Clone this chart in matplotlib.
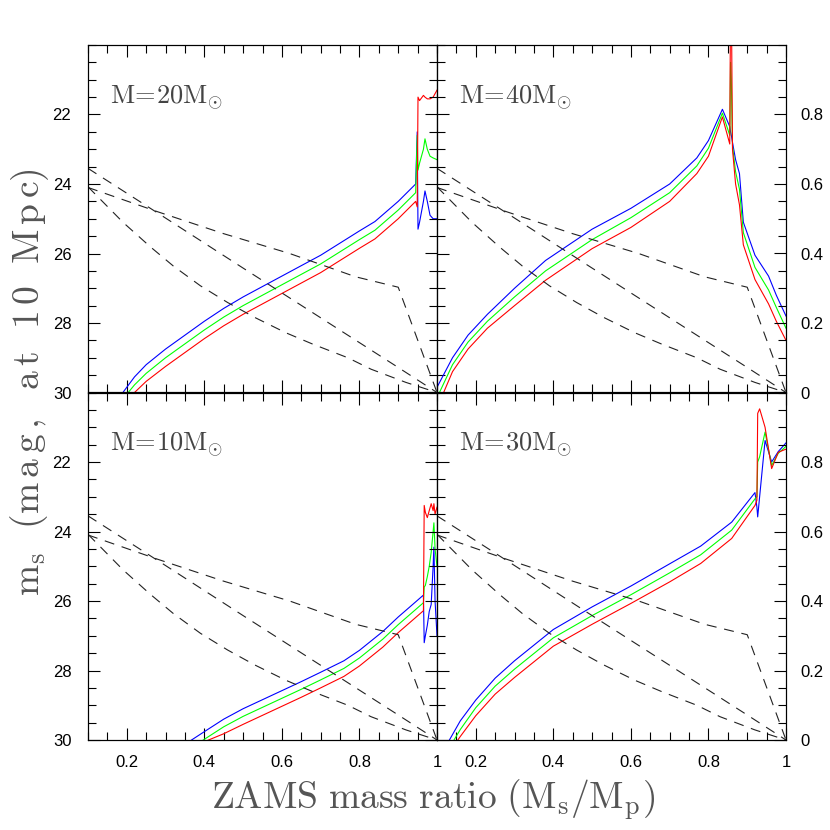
import matplotlib
matplotlib.use('Agg')
import matplotlib.pyplot as plt
from matplotlib.ticker import MultipleLocator, FixedLocator, FuncFormatter

plt.rcParams['mathtext.fontset'] = 'cm'
plt.rcParams['font.family'] = ['Liberation Sans', 'DejaVu Sans']

# dashed curves, right-hand scale (0-1), same in every panel
q_d1 = [0.1, 0.3, 0.5, 0.7, 0.9, 1.0]
f_d1 = [0.645, 0.502, 0.358, 0.215, 0.072, 0.0]
q_d2 = [0.1, 0.28, 0.45, 0.62, 0.79, 0.9, 1.0]
f_d2 = [0.59, 0.52, 0.457, 0.40, 0.333, 0.303, 0.0]
q_d3 = [0.1, 0.19, 0.26, 0.32, 0.39, 0.46, 0.53, 0.61, 0.68, 0.77, 0.83, 0.92, 1.0]
f_d3 = [0.592, 0.49, 0.42, 0.364, 0.307, 0.259, 0.216, 0.172, 0.139, 0.10, 0.067, 0.029, 0.0]

# M = 20 Msun
q20 = [0.15, 0.2, 0.22, 0.25, 0.3, 0.35, 0.4, 0.45, 0.5, 0.6, 0.7, 0.8, 0.84, 0.9, 0.945,
       0.949, 0.951, 0.955, 0.965, 0.969, 0.975, 0.982, 0.99, 1.0]
b20 = [30.6, 29.85, 29.55, 29.2, 28.75, 28.35, 27.95, 27.58, 27.25, 26.65, 26.05, 25.35, 25.08, 24.5, 24.0,
       22.5, 25.3, 25.1, 24.5, 24.2, 24.5, 24.9, 25.0, 25.0]
g20 = [30.85, 30.05, 29.78, 29.45, 29.0, 28.6, 28.2, 27.83, 27.5, 26.9, 26.3, 25.6, 25.33, 24.75, 24.25,
       22.6, 23.6, 23.4, 23.0, 22.7, 23.0, 23.2, 23.25, 23.3]
r20 = [31.1, 30.25, 30.0, 29.68, 29.25, 28.85, 28.45, 28.08, 27.75, 27.15, 26.55, 25.85, 25.58, 25.0, 24.5,
       24.66, 21.5, 21.6, 21.45, 21.5, 21.55, 21.55, 21.5, 21.3]

# M = 40 Msun
q40 = [0.1, 0.14, 0.18, 0.23, 0.3, 0.38, 0.5, 0.6, 0.7, 0.77, 0.80, 0.836, 0.855, 0.857,
       0.859, 0.862, 0.87, 0.88, 0.89, 0.92, 0.955, 0.975, 1.0]
b40 = [29.85, 29.0, 28.35, 27.75, 27.0, 26.2, 25.3, 24.7, 24.0, 23.25, 22.75, 21.85, 22.35, 22.5,
       22.6, 22.8, 23.3, 23.7, 25.1, 26.05, 26.65, 27.2, 27.8]
g40 = [30.15, 29.2, 28.55, 27.95, 27.25, 26.5, 25.6, 24.97, 24.25, 23.48, 22.97, 21.96, 22.6, 20.5,
       21.0, 22.9, 23.65, 24.15, 25.4, 26.4, 27.05, 27.55, 28.15]
r40 = [30.45, 29.4, 28.75, 28.15, 27.5, 26.77, 25.86, 25.25, 24.5, 23.7, 23.2, 22.07, 22.85, 18.5,
       18.5, 23.0, 24.0, 24.6, 25.75, 26.75, 27.45, 27.95, 28.5]

# M = 10 Msun
q10 = [0.33, 0.367, 0.4, 0.45, 0.5, 0.55, 0.6, 0.65, 0.7, 0.76, 0.8, 0.86, 0.9, 0.93, 0.965,
       0.967, 0.97, 0.975, 0.98, 0.985, 0.99, 0.992, 0.995, 1.0]
b10 = [30.3, 30.0, 29.76, 29.4, 29.1, 28.84, 28.58, 28.32, 28.05, 27.72, 27.42, 26.88, 26.46, 26.17, 25.83,
       27.2, 27.0, 26.7, 26.3, 26.1, 25.0, 24.45, 26.0, 27.0]
g10 = [30.55, 30.22, 29.98, 29.62, 29.32, 29.06, 28.8, 28.54, 28.27, 27.94, 27.64, 27.1, 26.68, 26.39, 26.05,
       25.6, 25.55, 25.3, 25.0, 24.6, 24.0, 23.75, 24.5, 25.0]
r10 = [30.8, 30.45, 30.05, 29.82, 29.55, 29.29, 29.03, 28.77, 28.5, 28.17, 27.87, 27.33, 26.91, 26.62, 26.28,
       23.25, 23.45, 23.6, 23.4, 23.2, 23.4, 23.2, 23.5, 23.3]

# M = 30 Msun
q30 = [0.1, 0.132, 0.16, 0.2, 0.25, 0.3, 0.4, 0.5, 0.6, 0.7, 0.78, 0.86, 0.92, 0.925,
       0.927, 0.932, 0.946, 0.963, 0.98, 1.0]
b30 = [31.0, 30.0, 29.45, 28.85, 28.22, 27.72, 26.82, 26.17, 25.57, 24.93, 24.42, 23.73, 22.88, 23.3,
       23.58, 23.0, 21.38, 22.0, 21.7, 21.45]
g30 = [31.25, 30.22, 29.7, 29.07, 28.45, 27.96, 27.06, 26.42, 25.82, 25.19, 24.67, 23.96, 23.06, 23.0,
       22.0, 21.85, 21.14, 22.1, 21.75, 21.55]
r30 = [31.5, 30.35, 29.9, 29.3, 28.68, 28.2, 27.3, 26.67, 26.07, 25.45, 24.92, 24.2, 23.25, 23.1,
       20.6, 20.47, 21.0, 22.19, 21.72, 21.63]

labels = [['20', '40'], ['10', '30']]
curves = [[(q20, b20, g20, r20), (q40, b40, g40, r40)],
          [(q10, b10, g10, r10), (q30, b30, g30, r30)]]

fig = plt.figure(figsize=(8.3, 8.3), dpi=100)
axs = fig.subplots(2, 2)
fig.subplots_adjust(left=88/830, right=786/830, bottom=1-740/830, top=1-45/830,
                    wspace=0, hspace=0)

fmt = FuncFormatter(lambda v, p: '%g' % round(v, 2))

for i in range(2):
    for j in range(2):
        ax = axs[i, j]
        q, b, g, r = curves[i][j]
        ax.plot(q, b, color='#0000ff', lw=0.8)
        ax.plot(q, g, color='#00ff00', lw=0.8)
        ax.plot(q, r, color='#ff0000', lw=0.8)
        ax.set_xlim(0.1, 1)
        ax.set_ylim(30, 20)
        ax.xaxis.set_major_locator(MultipleLocator(0.2))
        ax.xaxis.set_minor_locator(MultipleLocator(0.05))
        ax.xaxis.set_major_formatter(fmt)
        ax.yaxis.set_major_locator(FixedLocator([22, 24, 26, 28, 30]))
        ax.yaxis.set_minor_locator(MultipleLocator(0.5))
        ax.tick_params(which='both', direction='in', top=True, right=False,
                       labelsize=12, width=0.8)
        ax.tick_params(which='major', length=8.5)
        ax.tick_params(which='minor', length=5.5)
        ax.tick_params(axis='y', pad=12)
        ax.tick_params(axis='x', pad=11)
        if i == 0:
            ax.tick_params(labelbottom=False)
        if j == 1:
            ax.tick_params(labelleft=False)

        ax2 = ax.twinx()
        ax2.plot(q_d1, f_d1, color='#222222', lw=0.8, ls=(0, (9, 7)))
        ax2.plot(q_d2, f_d2, color='#222222', lw=0.8, ls=(0, (9, 7)))
        ax2.plot(q_d3, f_d3, color='#222222', lw=0.8, ls=(0, (9, 7)))
        ax2.set_ylim(0, 1)
        ax2.yaxis.set_major_locator(FixedLocator([0, 0.2, 0.4, 0.6, 0.8]))
        ax2.yaxis.set_minor_locator(MultipleLocator(0.05))
        ax2.yaxis.set_major_formatter(fmt)
        ax2.tick_params(which='both', direction='in', labelsize=12, width=0.8, pad=10)
        ax2.tick_params(which='major', length=8.5)
        ax2.tick_params(which='minor', length=5.5)
        if j == 0:
            ax2.tick_params(labelright=False)
        for a in (ax, ax2):
            for s in a.spines.values():
                s.set_linewidth(0.8)

        ax.text(0.063, 0.832, r'$\mathrm{M\!=\!' + labels[i][j] + r'M_{\odot}}$',
                transform=ax.transAxes, fontsize=19, color='#444444', va='baseline')

fig.text(0.522, 0.036, r'$\mathrm{ZAMS\ mass\ ratio\ (M_s/M_p)}$',
         fontsize=27, color='#555555', ha='center', va='center')
fig.text(0.036, 0.54, r'$\mathrm{m_s\ \ (m\,a\,g\,,\ \ a\,t\ \ 1\,0\ \ M\,p\,c)}$',
         fontsize=27, color='#555555', ha='center', va='center', rotation=90)

fig.savefig('out.png', dpi=100)
